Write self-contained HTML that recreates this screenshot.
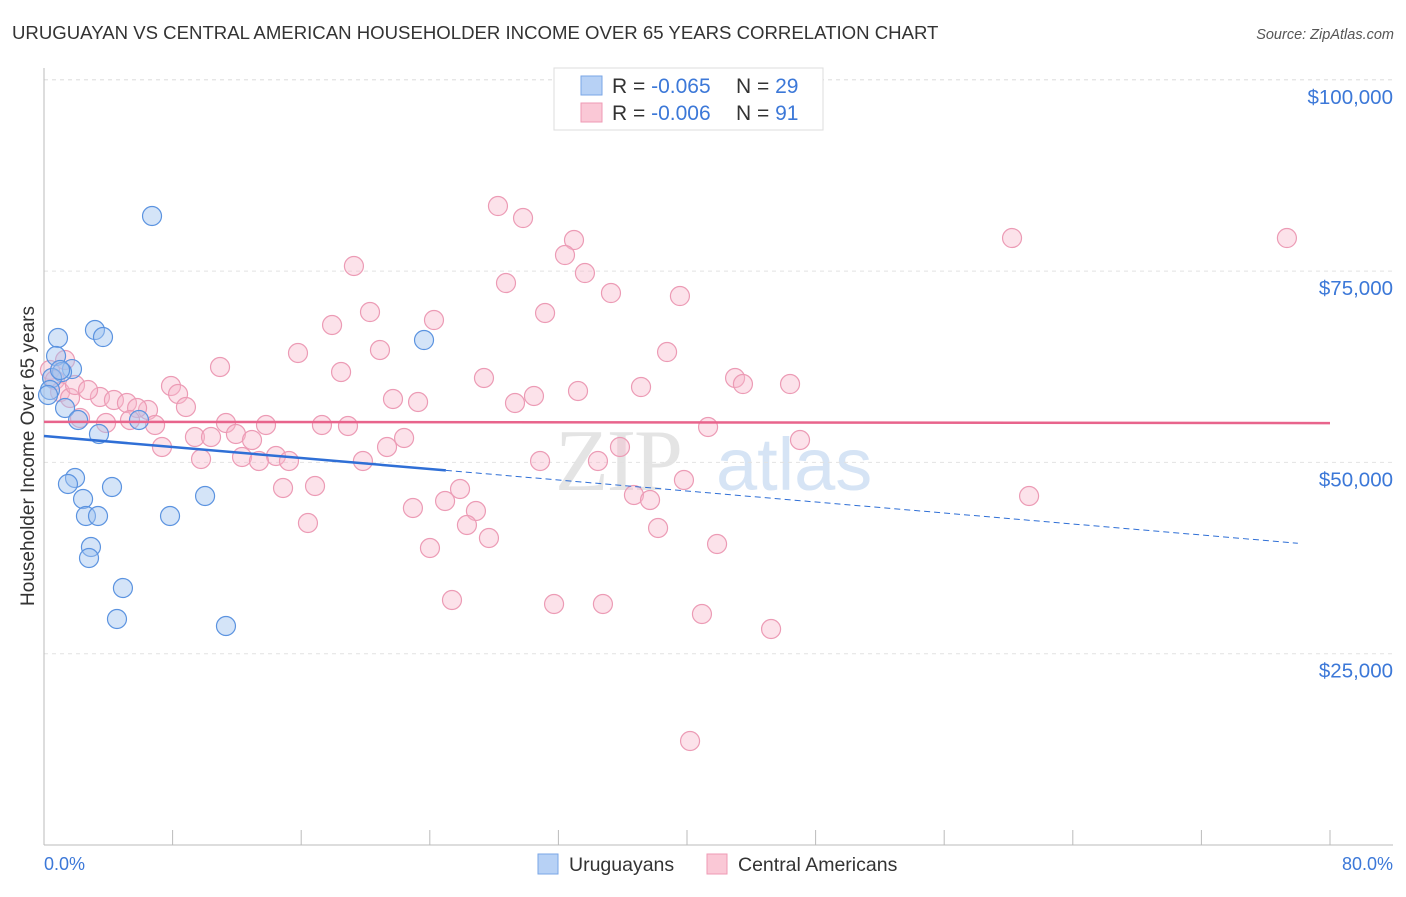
<!DOCTYPE html>
<html><head><meta charset="utf-8"><style>
body{margin:0;background:#fff;font-family:"Liberation Sans",sans-serif;}
</style></head><body>
<svg width="1406" height="892" xmlns="http://www.w3.org/2000/svg" id="chart">
<text x="12" y="39" font-size="18.6" fill="#333">URUGUAYAN VS CENTRAL AMERICAN HOUSEHOLDER INCOME OVER 65 YEARS CORRELATION CHART</text>
<text x="1394" y="39" font-size="14.5" fill="#555" font-style="italic" text-anchor="end">Source: ZipAtlas.com</text>
<text x="0" y="0" transform="translate(34,456) rotate(-90)" font-size="19" fill="#333" text-anchor="middle">Householder Income Over 65 years</text>
<g><text x="555" y="490" font-size="88" font-family="Liberation Serif" fill="#e4e4e4" letter-spacing="-2">ZIP</text><text x="716" y="490" font-size="74" fill="#d6e4f5">atlas</text></g>
<g id="grid"></g><g id="axes"></g><g id="marks"></g>
<g>
<rect x="554" y="68" width="269" height="62" fill="#fff" stroke="#ddd"/>
<rect x="581" y="76" width="21" height="19" fill="#b7d1f5" stroke="#7aa6e6"/>
<rect x="581" y="103" width="21" height="19" fill="#fac8d6" stroke="#ef9ab4"/>
<text x="612" y="93" font-size="21" fill="#333">R = <tspan fill="#3c78d8">-0.065</tspan><tspan x="736">N = </tspan><tspan fill="#3c78d8">29</tspan></text>
<text x="612" y="120" font-size="21" fill="#333">R = <tspan fill="#3c78d8">-0.006</tspan><tspan x="736">N = </tspan><tspan fill="#3c78d8"> 91</tspan></text>
</g>
<g>
<rect x="538" y="854" width="20" height="20" fill="#b7d1f5" stroke="#7aa6e6"/>
<text x="569" y="871" font-size="19.5" fill="#333">Uruguayans</text>
<rect x="707" y="854" width="20" height="20" fill="#fac8d6" stroke="#ef9ab4"/>
<text x="738" y="871" font-size="19.5" fill="#333">Central Americans</text>
</g>
<text x="44" y="870" font-size="18" fill="#3c78d8">0.0%</text>
<text x="1393" y="870" font-size="18" fill="#3c78d8" text-anchor="end">80.0%</text>
</svg>
<script>
const yTicks=[25000,50000,75000,100000];
const yTickLabels=["$25,000","$50,000","$75,000","$100,000"];
const xTicks=[0,8,16,24,32,40,48,56,64,72,80];
const blueX=[6.72,0.87,3.17,3.67,0.75,1.74,1.12,0.50,0.37,1.31,2.12,3.42,5.91,1.93,1.49,2.43,4.23,10.02,2.61,3.36,7.84,2.92,2.80,4.91,4.54,11.32,23.64,0.25,1.00];
const blueY=[82200,66255,67300,66385,63900,62200,61810,61030,59460,57110,55540,53710,55540,47960,47175,45215,46783,45607,42994,42994,42994,38943,37505,33585,29534,28619,65993,58806,62073];
const pinkX=[28.24,29.80,32.97,32.41,60.22,77.32,19.28,28.74,33.65,35.27,39.56,20.28,31.17,17.92,24.26,15.80,20.90,38.76,10.95,18.48,27.37,42.99,43.48,46.41,33.22,37.14,7.90,8.34,30.48,21.71,23.27,29.30,8.83,3.48,4.35,5.16,6.47,6.91,5.79,11.32,13.81,17.29,18.91,3.86,5.35,41.31,22.40,47.03,11.94,12.94,9.39,10.39,7.34,21.34,35.83,14.43,12.32,9.77,13.37,15.24,30.86,34.46,19.84,39.81,25.88,16.86,14.87,22.95,24.95,26.87,36.70,37.70,16.42,26.31,27.68,38.20,24.01,41.87,61.28,25.38,31.73,34.77,40.93,45.23,40.19,0.37,0.68,1.00,1.62,2.24,1.31,1.93,2.74];
const pinkY=[83505,81936,79061,77101,79323,79323,75664,73442,74749,72135,71743,69652,69522,67954,68607,64295,64687,64425,62465,61812,61028,61028,60243,60243,59329,59851,59982,58937,58675,58283,57891,57761,57238,58545,58153,57761,56846,54886,57107,55147,54886,54886,54755,55147,55539,54624,53187,52925,53709,52925,53317,53317,52011,52011,52011,50835,50704,50442,50181,50181,50181,50181,50181,47698,46522,46914,46653,44039,44954,43647,45738,45085,42079,41818,40119,41426,38812,39335,45607,32017,31494,31494,30187,28227,13591,62073,60766,59198,58414,55800,63380,60113,59460];
const blueTrend=[53450,-179.7];
const pinkTrend=[55300,-2];
const X=v=>44+v*16.075, Y=v=>845-v/25000*191.3;
const NS="http://www.w3.org/2000/svg";
function mk(t,a,p){const e=document.createElementNS(NS,t);for(const k in a)e.setAttribute(k,a[k]);p.appendChild(e);return e;}
const gridG=document.getElementById('grid'),axesG=document.getElementById('axes'),marksG=document.getElementById('marks');
yTicks.forEach((v,i)=>{
 const l=mk('line',{x1:44,x2:1393,y1:Y(v),y2:Y(v),stroke:'#e2e2e2','stroke-dasharray':'4,4'},gridG);
 
 
 const t=mk('text',{x:1393,y:Y(v)+24,'font-size':20.5,fill:'#3c78d8','text-anchor':'end'},axesG);
 t.textContent=yTickLabels[i];
 
 
});
const topGrid=mk('line',{x1:44,x2:1393,y1:Y(100000),y2:Y(100000),stroke:'#e2e2e2','stroke-dasharray':'4,4'},gridG);


const ya=mk('line',{x1:44,x2:44,y1:68,y2:845,stroke:'#bbb'},axesG);


const xa=mk('line',{x1:44,x2:1393,y1:845,y2:845,stroke:'#bbb'},axesG);


xTicks.forEach(v=>{const t=mk('line',{x1:X(v),x2:X(v),y1:830,y2:845,stroke:'#bbb'},axesG);
 
 });
function dots(xs,ys,fill,stroke,name){xs.forEach((x,i)=>{
 const c=mk('circle',{cx:X(x),cy:Y(ys[i]),r:9.5,fill:fill,stroke:stroke,'stroke-width':1.2},marksG);
 
 });}
dots(pinkX,pinkY,'rgba(248,182,202,0.4)','#ec9bb5','central-american-point');
dots(blueX,blueY,'rgba(160,195,240,0.45)','#5b93e0','uruguayan-point');
const bf=x=>blueTrend[0]+blueTrend[1]*x, pf=x=>pinkTrend[0]+pinkTrend[1]*x;
const b1=mk('line',{x1:X(0),y1:Y(bf(0)),x2:X(25),y2:Y(bf(25)),stroke:'#2f6fd6','stroke-width':2.5},marksG);


const b2=mk('line',{x1:X(25),y1:Y(bf(25)),x2:X(78),y2:Y(bf(78)),stroke:'#2f6fd6','stroke-width':1,'stroke-dasharray':'6,4'},marksG);


const p1=mk('line',{x1:X(0),y1:Y(pf(0)),x2:X(80),y2:Y(pf(80)),stroke:'#e8648c','stroke-width':2.5},marksG);


</script>
</body></html>
